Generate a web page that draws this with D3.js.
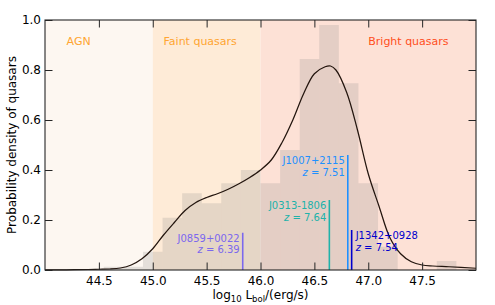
<!DOCTYPE html>
<html>
<head>
<meta charset="utf-8">
<script src="https://cdn.jsdelivr.net/npm/d3@7"></script>
<style>
  body { margin: 0; background: #fff; }
  text { font-family: "DejaVu Sans", sans-serif; }
</style>
</head>
<body>
<div id="chart"></div>
<script>
// luminosity regions
var regionNames = ["AGN", "Faint quasars", "Bright quasars"];
var regionStart = [44.0, 45.0, 46.0];
var regionEnd = [45.0, 46.0, 48.0];
var regionLabelX = [44.2, 45.1, 47.0];

// histogram (density), bin edges
var binLeft = [44.545, 44.727, 44.909, 45.091, 45.273, 45.455, 45.636, 45.818, 46.0,
               46.182, 46.364, 46.545, 46.727, 46.909, 47.091, 47.273, 47.455, 47.636];
var binRight = [44.727, 44.909, 45.091, 45.273, 45.455, 45.636, 45.818, 46.0, 46.182,
                46.364, 46.545, 46.727, 46.909, 47.091, 47.273, 47.455, 47.636, 47.818];
var binDensity = [0.013, 0.013, 0.073, 0.209, 0.307, 0.267, 0.347, 0.4, 0.347,
                  0.48, 0.844, 0.98, 0.747, 0.347, 0.093, 0, 0, 0.036];

// kde curve
var kdeX = [44.0, 44.2, 44.4, 44.5, 44.6, 44.7, 44.8, 44.9, 45.0, 45.1, 45.2, 45.3, 45.4, 45.5,
            45.6, 45.7, 45.8, 45.9, 46.0, 46.1, 46.2, 46.3, 46.4, 46.5, 46.6, 46.65, 46.7, 46.8,
            46.9, 47.0, 47.1, 47.2, 47.3, 47.4, 47.5, 47.6, 47.75, 48.0];
var kdeY = [0.0005, 0.001, 0.002, 0.003, 0.004, 0.008, 0.02, 0.045, 0.085, 0.14, 0.19, 0.238, 0.27, 0.29,
            0.305, 0.323, 0.345, 0.37, 0.40, 0.44, 0.51, 0.60, 0.705, 0.785, 0.813, 0.816, 0.80, 0.71,
            0.56, 0.385, 0.255, 0.13, 0.065, 0.033, 0.02, 0.016, 0.013, 0.007];

// individual quasars
var qsoNames = ["J0859+0022", "J0313-1806", "J1007+2115", "J1342+0928"];
var qsoRedshift = ["6.39", "7.64", "7.51", "7.54"];
var qsoLogL = [45.835, 46.639, 46.81, 46.846];
var qsoTop = [0.149, 0.28, 0.46, 0.16];
var qsoSide = ["left", "left", "left", "right"];

var xTicks = [44.5, 45.0, 45.5, 46.0, 46.5, 47.0, 47.5];
var yTicks = [0.0, 0.2, 0.4, 0.6, 0.8, 1.0];

var regionFill = ["#fdf7f1", "#feebd7", "#fde1d6"];
var regionText = ["#ffa532", "#ffa532", "#ff4e1c"];
var qsoColor = ["#7b68ee", "#20b2aa", "#1e90ff", "#0000cd"];

var width = 495, height = 305;
var plotL = 45, plotR = 476, plotT = 20, plotB = 270;

var x = d3.scaleLinear().domain([44, 48]).range([plotL, plotR]);
var y = d3.scaleLinear().domain([0, 1]).range([plotB, plotT]);

var svg = d3.select("#chart").append("svg")
  .attr("width", width)
  .attr("height", height);

// background bands
svg.selectAll("rect.band")
  .data(regionNames)
  .enter().append("rect")
  .attr("class", "band")
  .attr("x", function (d, i) { return x(regionStart[i]); })
  .attr("y", plotT)
  .attr("width", function (d, i) { return x(regionEnd[i]) - x(regionStart[i]); })
  .attr("height", plotB - plotT)
  .attr("fill", function (d, i) { return regionFill[i]; });

// histogram bars
svg.selectAll("rect.bar")
  .data(binDensity)
  .enter().append("rect")
  .attr("class", "bar")
  .attr("x", function (d, i) { return x(binLeft[i]); })
  .attr("y", function (d) { return y(d); })
  .attr("width", function (d, i) { return x(binRight[i]) - x(binLeft[i]); })
  .attr("height", function (d) { return y(0) - y(d); })
  .attr("fill", "#808080")
  .attr("fill-opacity", 0.2);

// kde line
var line = d3.line()
  .x(function (d) { return x(d[0]); })
  .y(function (d) { return y(d[1]); })
  .curve(d3.curveCatmullRom.alpha(0.5));

svg.append("path")
  .datum(d3.zip(kdeX, kdeY))
  .attr("d", line)
  .attr("fill", "none")
  .attr("stroke", "#23150e")
  .attr("stroke-width", 1.25);

// region labels
svg.selectAll("text.region")
  .data(regionNames)
  .enter().append("text")
  .attr("class", "region")
  .attr("x", function (d, i) { return x(regionLabelX[i]); })
  .attr("y", y(0.9))
  .attr("font-size", 11)
  .attr("fill", function (d, i) { return regionText[i]; })
  .text(function (d) { return d; });

// quasar markers
qsoNames.forEach(function (name, i) {
  var px = x(qsoLogL[i]);
  var py = y(qsoTop[i]);
  svg.append("line")
    .attr("x1", px).attr("x2", px)
    .attr("y1", y(0)).attr("y2", py)
    .attr("stroke", qsoColor[i])
    .attr("stroke-width", 1.6);

  var tx = qsoSide[i] == "left" ? px - 3 : px + 4;
  var anchor = qsoSide[i] == "left" ? "end" : "start";

  svg.append("text")
    .attr("x", tx).attr("y", py + 9)
    .attr("font-size", 10)
    .attr("text-anchor", anchor)
    .attr("fill", qsoColor[i])
    .text(name);

  var zt = svg.append("text")
    .attr("x", tx).attr("y", py + 20.5)
    .attr("font-size", 10)
    .attr("text-anchor", anchor)
    .attr("fill", qsoColor[i]);
  zt.append("tspan").attr("font-style", "italic").text("z");
  zt.append("tspan").text(" = " + qsoRedshift[i]);
});

// axes, ticks inward on all sides
var axisColor = "#262626";

svg.append("g")
  .attr("transform", "translate(0," + plotB + ")")
  .call(d3.axisBottom(x).tickValues(xTicks).tickSizeInner(-7.5).tickSizeOuter(0).tickPadding(6)
    .tickFormat(d3.format(".1f")))
  .call(function (g) {
    g.select(".domain").remove();
    g.selectAll("line").attr("stroke", axisColor);
    g.selectAll("text").attr("font-size", 12).attr("fill", "#000")
      .attr("font-family", "DejaVu Sans, sans-serif");
  });

svg.append("g")
  .attr("transform", "translate(0," + plotT + ")")
  .call(d3.axisTop(x).tickValues(xTicks).tickSizeInner(-7.5).tickSizeOuter(0).tickFormat(""))
  .call(function (g) {
    g.select(".domain").remove();
    g.selectAll("line").attr("stroke", axisColor);
  });

svg.append("g")
  .attr("transform", "translate(" + plotL + ",0)")
  .call(d3.axisLeft(y).tickValues(yTicks).tickSizeInner(-7.5).tickSizeOuter(0).tickPadding(4)
    .tickFormat(d3.format(".1f")))
  .call(function (g) {
    g.select(".domain").remove();
    g.selectAll("line").attr("stroke", axisColor);
    g.selectAll("text").attr("font-size", 12).attr("fill", "#000")
      .attr("font-family", "DejaVu Sans, sans-serif");
  });

svg.append("g")
  .attr("transform", "translate(" + plotR + ",0)")
  .call(d3.axisRight(y).tickValues(yTicks).tickSizeInner(-7.5).tickSizeOuter(0).tickFormat(""))
  .call(function (g) {
    g.select(".domain").remove();
    g.selectAll("line").attr("stroke", axisColor);
  });

// frame
svg.append("rect")
  .attr("x", plotL).attr("y", plotT)
  .attr("width", plotR - plotL).attr("height", plotB - plotT)
  .attr("fill", "none")
  .attr("stroke", axisColor)
  .attr("stroke-width", 1.1);

// axis labels
var xl = svg.append("text")
  .attr("x", (plotL + plotR) / 2)
  .attr("y", 299)
  .attr("text-anchor", "middle")
  .attr("font-size", 12);
xl.append("tspan").text("log");
xl.append("tspan").attr("font-size", 8.5).attr("dy", 2.5).text("10");
xl.append("tspan").attr("dy", -2.5).text(" L");
xl.append("tspan").attr("font-size", 8.5).attr("dy", 2.5).text("bol");
xl.append("tspan").attr("dy", -2.5).text("/(erg/s)");

svg.append("text")
  .attr("transform", "translate(16," + ((plotT + plotB) / 2) + ") rotate(-90)")
  .attr("text-anchor", "middle")
  .attr("font-size", 12)
  .text("Probability density of quasars");
</script>
</body>
</html>
